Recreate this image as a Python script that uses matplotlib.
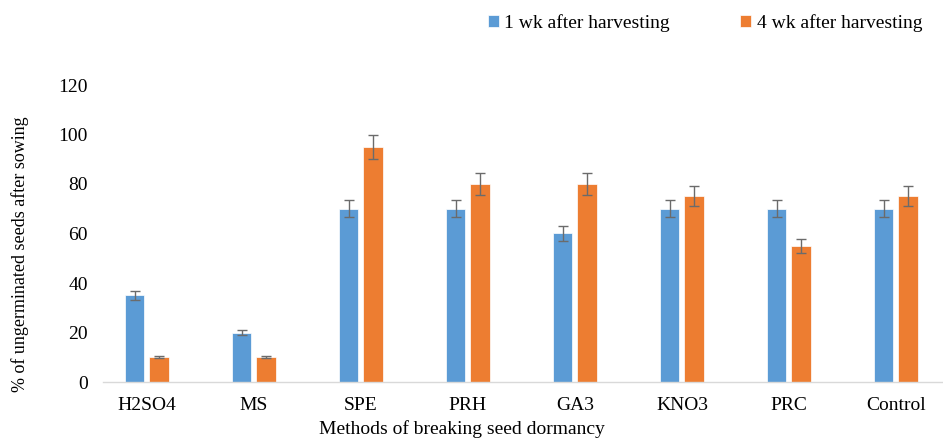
import numpy as np
import matplotlib.pyplot as plt

# --------------------------
# Data
# --------------------------
methods = ["H2SO4", "MS", "SPE", "PRH", "GA3", "KNO3", "PRC", "Control"]
wk1_vals = [35, 20, 70, 70, 60, 70, 70, 70]
wk1_err = [1.7, 1.0, 3.5, 3.5, 3.0, 3.5, 3.5, 3.5]
wk4_vals = [10, 10, 95, 80, 80, 75, 55, 75]
wk4_err = [0.5, 0.5, 4.7, 4.5, 4.5, 4.0, 2.8, 4.0]
series_labels = ["1 wk after harvesting", "4 wk after harvesting"]

blue = "#5B9BD5"
orange = "#ED7D31"

plt.rcParams['font.family'] = ['Liberation Serif', 'DejaVu Serif']

fig = plt.figure(figsize=(9.43, 4.4), dpi=100)
ax = fig.add_axes([103 / 943, 58 / 440, 840 / 943, 297 / 440])

x = np.arange(len(methods))
w = 0.18
off = 0.113
err_kw = dict(ecolor="#6b6b6b", elinewidth=1.0, capsize=3.5, capthick=1.0)
ax.bar(x - off, wk1_vals, w, yerr=wk1_err, color=blue, label=series_labels[0],
       edgecolor="white", linewidth=0.5, error_kw=err_kw)
ax.bar(x + off, wk4_vals, w, yerr=wk4_err, color=orange, label=series_labels[1],
       edgecolor="white", linewidth=0.5, error_kw=err_kw)

ax.set_xlim(-0.41, 7.44)
ax.set_ylim(0, 120)
ax.set_yticks(range(0, 121, 20))
ax.set_xticks(x)
ax.set_xticklabels(methods)
ax.tick_params(axis='both', length=0, labelsize=14)
ax.tick_params(axis='x', pad=11)
ax.tick_params(axis='y', pad=11)

for s in ["top", "right", "left"]:
    ax.spines[s].set_visible(False)
ax.spines["bottom"].set_color("#d9d9d9")
ax.spines["bottom"].set_linewidth(1.0)

ax.set_xlabel("Methods of breaking seed dormancy", fontsize=14)
ax.xaxis.set_label_coords(0.427, -0.13)
ax.set_ylabel("% of ungerminated seeds after sowing", fontsize=13)
ax.yaxis.set_label_coords(-0.088, 0.43)

fig.legend(loc="center", bbox_to_anchor=(705 / 943, 1 - 23 / 440), ncol=2,
           frameon=False, fontsize=14, handlelength=0.55, handleheight=0.55,
           handletextpad=0.3, columnspacing=3.6)

fig.savefig("out.png", dpi=100)
